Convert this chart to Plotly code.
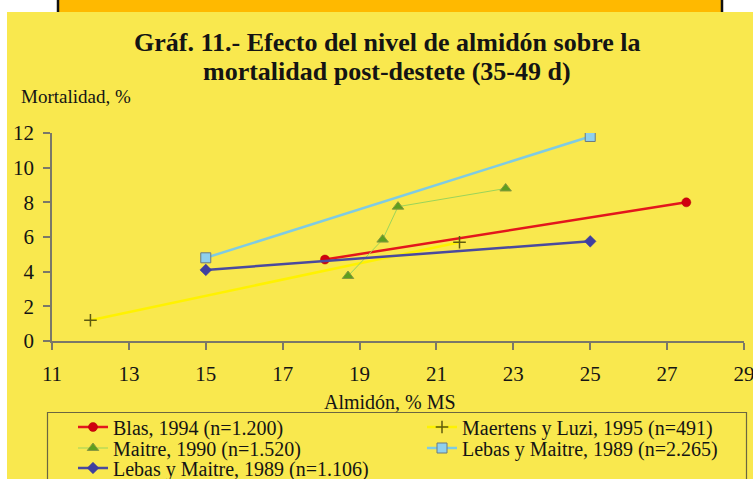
import plotly.graph_objects as go

# ---- data ----
blas_x = [18.1, 27.5]
blas_y = [4.7, 8.0]
maertens_x = [12.0, 21.6]
maertens_y = [1.2, 5.7]
maitre_x = [18.7, 19.6, 20.0, 22.8]
maitre_y = [3.75, 5.85, 7.75, 8.8]
lebas2265_x = [15.0, 25.0]
lebas2265_y = [4.8, 11.8]
lebas1106_x = [15.0, 25.0]
lebas1106_y = [4.1, 5.75]

names = ["Blas, 1994 (n=1.200)", "Maertens y Luzi, 1995 (n=491)",
         "Maitre, 1990 (n=1.520)", "Lebas y Maitre, 1989 (n=2.265)",
         "Lebas y Maitre, 1989 (n=1.106)"]

x_ticks = [11, 13, 15, 17, 19, 21, 23, 25, 27, 29]
y_ticks = [0, 2, 4, 6, 8, 10, 12]

W, H = 753, 479
L, R, T, B = 52, 9, 133, 138
PW, PH = W - L - R, H - T - B


def px(x):
    return (x - L) / PW


def py(y):
    return (H - B - y) / PH


SERIF = "Liberation Serif"
YEL = "#F9E84E"
TXT = "#141414"

fig = go.Figure()
fig.add_trace(go.Scatter(x=blas_x, y=blas_y, name=names[0], mode="lines+markers",
                         legend="legend",
                         line=dict(color="#E3161C", width=2.5),
                         marker=dict(symbol="circle", size=9, color="#D00010",
                                     line=dict(color="#B00000", width=0.5))))
fig.add_trace(go.Scatter(x=maertens_x, y=maertens_y, name=names[1], mode="lines+markers",
                         legend="legend2",
                         line=dict(color="#FFF200", width=2.5),
                         marker=dict(symbol="cross-thin", size=9,
                                     line=dict(color="#5E5A10", width=1.5))))
fig.add_trace(go.Scatter(x=maitre_x, y=maitre_y, name=names[2], mode="lines+markers",
                         legend="legend3",
                         line=dict(color="#9BD45A", width=1),
                         marker=dict(symbol="triangle-up", size=10, color="#5E9E1E",
                                     line=dict(color="#8A9A40", width=1))))
fig.add_trace(go.Scatter(x=lebas2265_x, y=lebas2265_y, name=names[3], mode="lines+markers",
                         legend="legend4",
                         line=dict(color="#7FCBE3", width=2.5),
                         marker=dict(symbol="square", size=10, color="#8FD0EE",
                                     line=dict(color="#6A7A80", width=1))))
fig.add_trace(go.Scatter(x=lebas1106_x, y=lebas1106_y, name=names[4], mode="lines+markers",
                         legend="legend5",
                         line=dict(color="#4A4A9E", width=2.5),
                         marker=dict(symbol="diamond", size=9, color="#3F3FA0",
                                     line=dict(color="#3F3FA0", width=0.5))))

shapes = [
    # white top strip and left strip
    dict(type="rect", xref="paper", yref="paper", x0=px(-5), x1=px(W + 5),
         y0=py(12), y1=py(-5), fillcolor="white", line=dict(width=0), layer="below"),
    dict(type="rect", xref="paper", yref="paper", x0=px(-5), x1=px(7),
         y0=py(H + 5), y1=py(-5), fillcolor="white", line=dict(width=0), layer="below"),
    # orange header bar
    dict(type="rect", xref="paper", yref="paper", x0=px(57), x1=px(723),
         y0=py(12), y1=py(-5), fillcolor="#FFB900", line=dict(width=0), layer="below"),
    dict(type="line", xref="paper", yref="paper", x0=px(58), x1=px(58),
         y0=py(12), y1=py(-5), line=dict(color="#111111", width=2.5)),
    dict(type="line", xref="paper", yref="paper", x0=px(722), x1=px(722),
         y0=py(12), y1=py(-5), line=dict(color="#111111", width=2.5)),
    # legend box
    dict(type="rect", xref="paper", yref="paper", x0=px(47.5), x1=px(746.5),
         y0=py(H + 10), y1=py(412.5), fillcolor="rgba(0,0,0,0)",
         line=dict(color="#6B6640", width=1.2)),
]

annotations = [
    dict(text="Mortalidad, %", xref="paper", yref="paper", x=px(19), y=py(97),
         xanchor="left", yanchor="middle", showarrow=False,
         font=dict(family=SERIF, size=19, color=TXT)),
    dict(text="Almidón, % MS", xref="paper", yref="paper", x=px(390), y=py(402),
         xanchor="center", yanchor="middle", showarrow=False,
         font=dict(family=SERIF, size=20, color=TXT)),
    dict(text="<b>Gráf. 11.- Efecto del nivel de almidón sobre la</b>",
         xref="paper", yref="paper", x=px(387), y=py(42),
         xanchor="center", yanchor="middle", showarrow=False,
         font=dict(family=SERIF, size=26, color=TXT)),
    dict(text="<b>mortalidad post-destete (35-49 d)</b>",
         xref="paper", yref="paper", x=px(387), y=py(72),
         xanchor="center", yanchor="middle", showarrow=False,
         font=dict(family=SERIF, size=26, color=TXT)),
]


def leg(lx, ly):
    return dict(orientation="h", x=px(lx), y=py(ly), xanchor="left", yanchor="middle",
                bgcolor="rgba(0,0,0,0)", borderwidth=0, itemwidth=30,
                tracegroupgap=0, traceorder="normal",
                font=dict(family=SERIF, size=20, color=TXT))


COL1, COL2 = 73, 422
ROW1, ROW2, ROW3 = 427, 448, 468

fig.update_layout(
    width=W, height=H,
    margin=dict(l=L, r=R, t=T, b=B, pad=0, autoexpand=False),
    paper_bgcolor=YEL, plot_bgcolor=YEL,
    font=dict(family=SERIF, color=TXT),
    showlegend=True,
    legend=leg(COL1, ROW1), legend2=leg(COL2, ROW1),
    legend3=leg(COL1, ROW2), legend4=leg(COL2, ROW2),
    legend5=leg(COL1, ROW3),
    shapes=shapes,
    annotations=annotations,
)

fig.update_xaxes(range=[11, 29], tickvals=x_ticks, ticktext=[str(v) for v in x_ticks],
                 showgrid=False, zeroline=False, showline=True,
                 linecolor="#7A7868", linewidth=1.5, ticks="outside", ticklen=7,
                 tickcolor="#7A7868", tickwidth=1.5, ticklabelstandoff=6,
                 ticklabeloverflow="allow",
                 tickfont=dict(family=SERIF, size=21, color=TXT))
fig.update_yaxes(range=[0, 12], tickvals=y_ticks, ticktext=[str(v) for v in y_ticks],
                 showgrid=False, zeroline=False, showline=True,
                 linecolor="#7A7868", linewidth=1.5, ticks="outside", ticklen=7,
                 tickcolor="#7A7868", tickwidth=1.5, ticklabelstandoff=5,
                 ticklabeloverflow="allow",
                 tickfont=dict(family=SERIF, size=21, color=TXT))

fig.write_html("out.html", config={"displayModeBar": False},
               post_script="document.body.style.margin='0';document.body.style.overflow='hidden';")
